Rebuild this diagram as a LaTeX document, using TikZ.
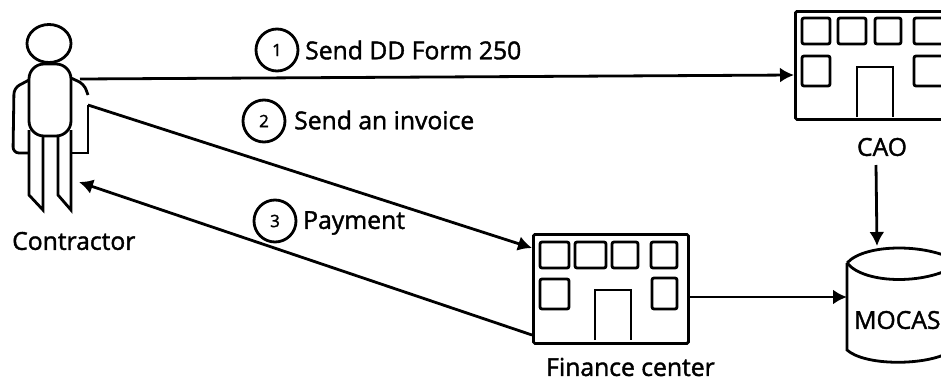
\documentclass[tikz,border=0pt]{standalone}
\usepackage{fontspec}
\setmainfont{Open Sans}[FakeBold=1.6]
\usetikzlibrary{arrows.meta}
\tikzset{
  ink/.style={line width=2.8pt,draw=black},
  win/.style={ink,rounded corners=2pt},
  bld/.style={ink,rounded corners=1.5pt,inner sep=0pt,minimum width=0pt},
  num/.style={circle,ink,minimum size=42pt,inner sep=0pt,font=\fontsize{17}{17}\selectfont},
  lbl/.style={inner sep=0pt,font=\fontsize{24.7}{26}\selectfont,text=black},
  conn/.style={line width=2.8pt,-{Latex[length=14pt,width=15pt]}},
}
\begin{document}
\begin{tikzpicture}[x=1pt,y=-1pt]
\useasboundingbox (0,0) rectangle (941,380);
% person
\coordinate (pr) at (80,79);
\coordinate (pi) at (88,105);
\coordinate (pa) at (79,182);
\draw[ink] (49,43.5) circle[x radius=22,y radius=19];
\draw[ink,rounded corners=15pt] (29,64) rectangle (71,136);
\draw[ink,rounded corners=6pt] (29,80) -- (14,88) -- (13,153) -- (29,153);
\draw[ink,rounded corners=6pt] (71,78) -- (84,84) -- (88,95);
\draw[ink] (88,105) -- (88,153) -- (71,153);
\draw[ink] (29,130) -- (29,195) -- (43,210) -- (43,136);
\draw[ink] (71,130) -- (71,210) -- (58,195) -- (58,136);
% buildings
\node[bld,draw,rectangle,minimum width=155pt,minimum height=109pt,anchor=north west] (fin) at (532,233) {};
\foreach \a/\b/\c/\d in {540/242/569/268,575/242/606/268,612/242/638/268,651/242/677/268,540/279/569/309,652/278/677/309}
  \draw[win] (\a,\b) rectangle (\c,\d);
\draw[ink] (595,340) -- (595,290) -- (631,290) -- (631,340);
\node[bld,draw,rectangle,minimum width=160pt,minimum height=108pt,anchor=north west] (cao) at (794,10) {};
\foreach \a/\b/\c/\d in {802/18/830/44,838/18/866/44,875/18/901/44,914/18/945/44,802/56/830/86,914/56/945/86}
  \draw[win] (\a,\b) rectangle (\c,\d);
\draw[ink] (857,117) -- (857,67) -- (893,67) -- (893,117);
% cylinder
\coordinate (mocN) at (877,246);
\coordinate (mocW) at (847,297);
\coordinate (caoS) at (876,165);
\draw[ink] (847,263) .. controls (865,243) and (930,243) .. (960,263);
\draw[ink] (847,263) .. controls (865,285) and (930,285) .. (960,263);
\draw[ink] (847,263) -- (847,350) .. controls (865,366) and (925,366) .. (950,352);
% connectors
\draw[conn] (pr) -- (cao.west |- 0,75);
\draw[conn] (pi) -- (fin.north west |- 0,248);
\draw[conn] (fin.south west |- 0,335) -- (pa);
\draw[conn] (caoS) -- (mocN);
\draw[conn] (fin.east |- mocW) -- (mocW);
% circled numbers and labels
\node[num] (n1) at (277,50) {1};
\node[num] (n2) at (264,121) {2};
\node[num] (n3) at (275,221) {3};
\node[lbl,anchor=west] (t1) at (305,50) {Send DD Form 250};
\node[lbl,anchor=west] (t2) at (294,120) {Send an invoice};
\node[lbl,anchor=west] (t3) at (303,223) {Payment};
\node[lbl,anchor=west] (t4) at (12,241) {Contractor};
\node[lbl] (t5) at (882,147) {CAO};
\node[lbl,anchor=west] (t6) at (546,367) {Finance center};
\node[lbl,anchor=west] (t7) at (854,320) {MOCAS};
\end{tikzpicture}
\end{document}
